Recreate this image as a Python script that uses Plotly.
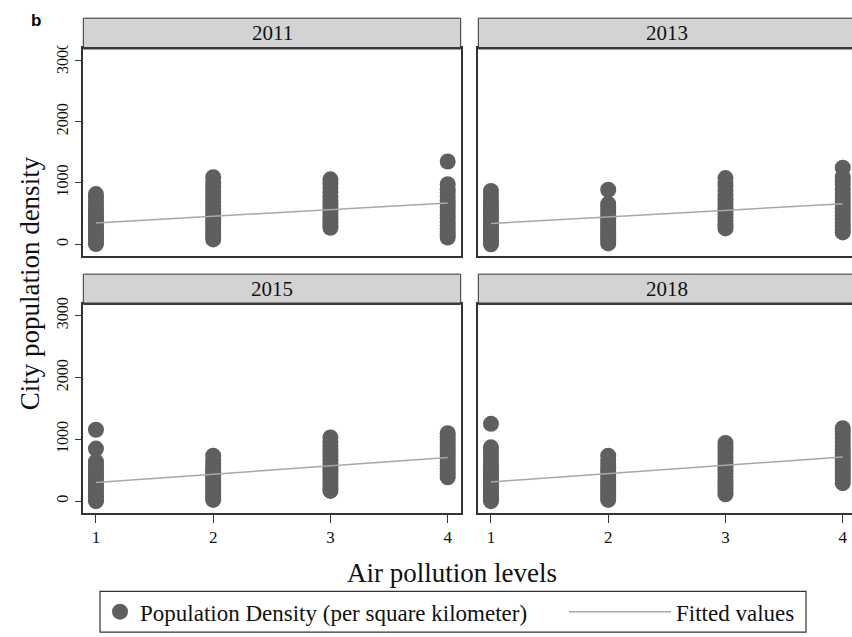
import plotly.graph_objects as go

# ---------------- data ----------------
years = ["2011", "2013", "2015", "2018"]
levels = [1, 2, 3, 4]
x_tick_vals = [1, 2, 3, 4]
y_tick_vals = [0, 1000, 2000, 3000]

# population density per pollution level (1..4), one list per level
density_2011 = [
    [5, 40, 75, 110, 150, 185, 220, 260, 300, 340, 380, 420, 460, 500, 545, 590, 640, 700, 760, 820],
    [80, 120, 170, 220, 270, 320, 370, 420, 470, 520, 570, 620, 680, 740, 800, 870, 940, 1010, 1095],
    [270, 310, 360, 410, 460, 510, 560, 610, 660, 720, 780, 850, 920, 990, 1060],
    [110, 160, 210, 260, 310, 360, 420, 480, 540, 600, 660, 720, 780, 840, 900, 980, 1350],
]
density_2013 = [
    [0, 40, 80, 120, 160, 200, 240, 280, 320, 360, 400, 450, 500, 550, 600, 660, 720, 790, 870],
    [15, 60, 100, 140, 180, 220, 260, 300, 340, 380, 420, 470, 520, 570, 620, 660, 890],
    [260, 300, 340, 390, 440, 490, 540, 590, 640, 690, 740, 800, 870, 950, 1010, 1080],
    [195, 230, 290, 350, 410, 470, 530, 590, 650, 710, 770, 830, 900, 970, 1040, 1100, 1250],
]
density_2015 = [
    [0, 35, 70, 110, 150, 190, 230, 270, 310, 350, 390, 430, 470, 510, 560, 600, 640, 850, 1155],
    [20, 60, 100, 140, 180, 220, 260, 300, 340, 380, 420, 460, 500, 550, 600, 660, 735],
    [165, 210, 260, 310, 360, 410, 460, 510, 560, 610, 660, 720, 780, 840, 900, 960, 1030],
    [385, 430, 480, 530, 580, 630, 680, 730, 780, 830, 880, 940, 1000, 1050, 1100],
]
density_2018 = [
    [0, 40, 80, 120, 160, 200, 240, 280, 320, 360, 400, 440, 480, 530, 580, 630, 690, 750, 810, 870, 1250],
    [20, 60, 100, 140, 180, 220, 260, 300, 340, 390, 440, 490, 540, 600, 660, 735],
    [110, 150, 200, 250, 300, 350, 400, 450, 500, 550, 600, 650, 710, 770, 830, 880, 940],
    [290, 340, 390, 440, 490, 540, 590, 640, 690, 740, 790, 840, 900, 960, 1020, 1080, 1130, 1180],
]

# fitted values at pollution level 1 and 4
fit_levels = [1, 4]
fitted_2011 = [350, 675]
fitted_2013 = [340, 660]
fitted_2015 = [300, 705]
fitted_2018 = [310, 715]

densities = [density_2011, density_2013, density_2015, density_2018]
fitted = [fitted_2011, fitted_2013, fitted_2015, fitted_2018]

# ---------------- layout geometry ----------------
W, H = 852, 637
def px_x(p):
    return p / W
def px_y(p):
    return 1 - p / H

x_domains = [[px_x(83.3), px_x(460.7)], [px_x(478.3), 1.0],
             [px_x(83.3), px_x(460.7)], [px_x(478.3), 1.0]]
y_domains = [[px_y(252.7), px_y(42.7)], [px_y(252.7), px_y(42.7)],
             [px_y(512), px_y(300.5)], [px_y(512), px_y(300.5)]]
x_ranges = [[0.892, 4.111], [0.892, 4.079], [0.892, 4.111], [0.892, 4.079]]
y_range = [-195, 3195]
strip_y = [[px_y(42.7), px_y(12.3)], [px_y(42.7), px_y(12.3)],
           [px_y(300.5), px_y(270.7)], [px_y(300.5), px_y(270.7)]]

SERIF = "Liberation Serif, Times New Roman, serif"
DOT = "#5f5f5f"
FIT = "#a8a8a8"
EDGE = "#333333"

fig = go.Figure()

for i, year in enumerate(years):
    ax = "" if i == 0 else str(i + 1)
    xs, ys = [], []
    for lv, vals in zip(levels, densities[i]):
        xs += [lv] * len(vals)
        ys += vals
    fig.add_trace(go.Scatter(
        x=xs, y=ys, mode="markers", xaxis="x" + ax, yaxis="y" + ax,
        marker=dict(size=16, color=DOT, line=dict(width=0)),
        name="Population Density (per square kilometer)",
        showlegend=(i == 0), legend="legend", cliponaxis=True,
    ))
    fig.add_trace(go.Scatter(
        x=fit_levels, y=fitted[i], mode="lines", xaxis="x" + ax, yaxis="y" + ax,
        line=dict(color=FIT, width=1.5),
        name="Fitted values", showlegend=(i == 0), legend="legend2",
    ))

layout = {}
for i in range(4):
    key = "" if i == 0 else str(i + 1)
    bottom = i >= 2
    left = i % 2 == 0
    layout["xaxis" + key] = dict(
        domain=x_domains[i], range=x_ranges[i], anchor="y" + key,
        showline=True, mirror=True, linecolor=EDGE, linewidth=1.5,
        showgrid=False, zeroline=False,
        tickvals=x_tick_vals if bottom else [],
        ticks="outside" if bottom else "", ticklen=8, tickcolor=EDGE, tickwidth=1,
        showticklabels=bottom, tickfont=dict(family=SERIF, size=17, color="#111"),
    )
    layout["yaxis" + key] = dict(
        domain=y_domains[i], range=y_range, anchor="x" + key,
        showline=True, mirror=left, linecolor=EDGE, linewidth=1.5,
        showgrid=False, zeroline=False,
        tickvals=y_tick_vals if left else [],
        ticks="outside" if left else "", ticklen=7, tickcolor=EDGE, tickwidth=1,
        showticklabels=left, tickangle=-90,
        tickfont=dict(family=SERIF, size=16, color="#111"),
    )

shapes = []
annotations = []
for i, year in enumerate(years):
    x_right = x_domains[i][1] if i % 2 == 0 else 1.01
    shapes.append(dict(type="rect", xref="paper", yref="paper",
                       x0=x_domains[i][0], x1=x_right,
                       y0=strip_y[i][0], y1=strip_y[i][1],
                       fillcolor="#d3d3d3", line=dict(color=EDGE, width=1), layer="above"))
    shapes.append(dict(type="line", xref="paper", yref="paper",
                       x0=x_domains[i][0], x1=x_right,
                       y0=strip_y[i][0], y1=strip_y[i][0],
                       line=dict(color="#3a3a3a", width=2.5), layer="above"))
    annotations.append(dict(text=year, xref="paper", yref="paper",
                            x=(x_domains[i][0] + (x_domains[i][1] if i % 2 == 0 else px_x(855.7))) / 2,
                            y=(strip_y[i][0] + strip_y[i][1]) / 2,
                            showarrow=False, font=dict(family=SERIF, size=21, color="#111"),
                            xanchor="center", yanchor="middle"))

# clipped top tick label area (as in the reference)
shapes.append(dict(type="rect", xref="paper", yref="paper",
                   x0=px_x(45), x1=px_x(81), y0=px_y(39.5), y1=1.0,
                   fillcolor="white", line=dict(width=0), layer="above"))

# legend frame
shapes.append(dict(type="rect", xref="paper", yref="paper",
                   x0=px_x(100), x1=px_x(806), y0=px_y(632), y1=px_y(591),
                   fillcolor="rgba(0,0,0,0)", line=dict(color=EDGE, width=1.2)))

annotations += [
    dict(text="City population density", xref="paper", yref="paper",
         x=px_x(30), y=px_y(280), textangle=-90, showarrow=False,
         font=dict(family=SERIF, size=27, color="#111"), xanchor="center", yanchor="middle"),
    dict(text="Air pollution levels", xref="paper", yref="paper",
         x=px_x(452), y=px_y(572), showarrow=False,
         font=dict(family=SERIF, size=27, color="#111"), xanchor="center", yanchor="middle"),
    dict(text="<b>b</b>", xref="paper", yref="paper",
         x=px_x(36), y=px_y(15), showarrow=False,
         font=dict(family="Liberation Sans, Arial, sans-serif", size=17, color="#000"),
         xanchor="center", yanchor="middle"),
]

fig.update_layout(
    width=W, height=H,
    margin=dict(l=0, r=0, t=0, b=0),
    paper_bgcolor="white", plot_bgcolor="white",
    shapes=shapes, annotations=annotations,
    legend=dict(orientation="h", x=px_x(100), y=px_y(611.5), xanchor="left", yanchor="middle",
                font=dict(family=SERIF, size=23, color="#111"), bgcolor="rgba(0,0,0,0)",
                itemwidth=30),
    legend2=dict(orientation="h", x=px_x(564), y=px_y(611.5), xanchor="left", yanchor="middle",
                 font=dict(family=SERIF, size=23, color="#111"), bgcolor="rgba(0,0,0,0)",
                 itemwidth=102),
    showlegend=True,
)
fig.update_layout(**layout)

fig.write_html("out.html", config={"displayModeBar": False},
               post_script="document.body.style.margin='0';")
